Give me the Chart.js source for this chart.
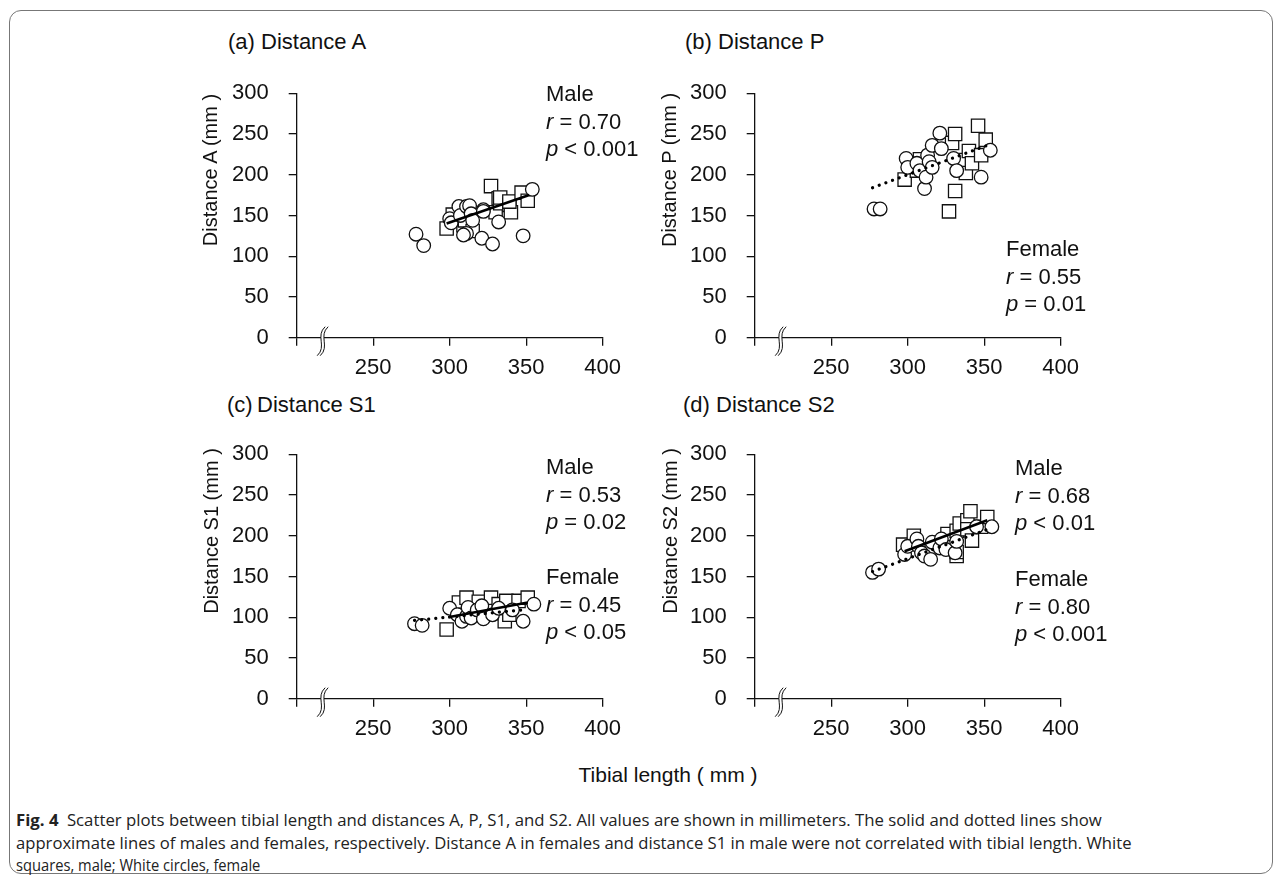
<!DOCTYPE html>
<html>
<head>
<meta charset="utf-8">
<script src="https://cdn.jsdelivr.net/npm/chart.js@4.4.0/dist/chart.umd.min.js"></script>
<style>
html, body { margin: 0; padding: 0; background: #fff; }
body { width: 1282px; height: 877px; position: relative; overflow: hidden; font-family: "Liberation Sans", Arial, sans-serif; color: #111; }
.frame { position: absolute; left: 9px; top: 10px; width: 1264px; height: 864px; border: 1px solid #777; border-radius: 12px; box-sizing: border-box; }
.panel { position: absolute; width: 420px; height: 330px; }
.title { position: absolute; font-size: 22px; line-height: 26px; white-space: nowrap; }
.ytitle { position: absolute; font-size: 20px; line-height: 22px; white-space: nowrap; transform: translate(-50%, -50%) rotate(-90deg); }
.note { position: absolute; font-size: 22px; line-height: 27.5px; white-space: nowrap; }
.xtitle { position: absolute; font-size: 21px; line-height: 24px; white-space: nowrap; transform: translateX(-50%); }
.cap { position: absolute; left: 16px; font-family: "Open Sans", sans-serif; font-size: 16.5px; line-height: 22px; white-space: nowrap; color: #222; transform-origin: 0 50%; }
</style>
</head>
<body>
<div class="frame"></div>

<canvas id="pa" class="panel" style="left:220px; top:60px"></canvas>
<canvas id="pb" class="panel" style="left:678px; top:60px"></canvas>
<canvas id="pc" class="panel" style="left:220px; top:421px"></canvas>
<canvas id="pd" class="panel" style="left:678px; top:421px"></canvas>

<div class="title" style="left:228px; top:29px">(a) Distance A</div>
<div class="title" style="left:685px; top:29px">(b) Distance P</div>
<div class="title" style="left:227px; top:392px">(c)&thinsp;Distance S1</div>
<div class="title" style="left:683px; top:392px">(d) Distance S2</div>

<div class="ytitle" style="left:210px; top:170px">Distance A (mm )</div>
<div class="ytitle" style="left:669px; top:170px">Distance P (mm )</div>
<div class="ytitle" style="left:211px; top:531px">Distance S1 (mm )</div>
<div class="ytitle" style="left:670px; top:531px">Distance S2 (mm )</div>

<div class="note" style="left:546px; top:80px">Male<br><i>r</i> = 0.70<br><i>p</i> &lt; 0.001</div>
<div class="note" style="left:1006px; top:235px">Female<br><i>r</i> = 0.55<br><i>p</i> = 0.01</div>
<div class="note" style="left:546px; top:453px">Male<br><i>r</i> = 0.53<br><i>p</i> = 0.02</div>
<div class="note" style="left:546px; top:563px">Female<br><i>r</i> = 0.45<br><i>p</i> &lt; 0.05</div>
<div class="note" style="left:1015px; top:454px">Male<br><i>r</i> = 0.68<br><i>p</i> &lt; 0.01</div>
<div class="note" style="left:1015px; top:565px">Female<br><i>r</i> = 0.80<br><i>p</i> &lt; 0.001</div>

<div class="xtitle" style="left:668px; top:763px">Tibial length ( mm )</div>

<div class="cap" data-w="1086" style="top:809px"><b>Fig. 4</b>&ensp;Scatter plots between tibial length and distances A, P, S1, and S2. All values are shown in millimeters. The solid and dotted lines show</div>
<div class="cap" data-w="1116" style="top:832px">approximate lines of males and females, respectively. Distance A in females and distance S1 in male were not correlated with tibial length. White</div>
<div class="cap" data-w="244" style="top:854px">squares, male; White circles, female</div>

<script>
// tibial length (x) vs distance (y), mm; squares = male, circles = female
const maleA = [[298,134],[302,151],[309,138],[310,144],[315,131],[327,186],[330,154],[332,171],[333,165],[333,172],[339,163],[340,154],[339,167],[347,178],[351,168]];
const femaleA = [[278,127],[283,113],[300,146],[301,141],[306,161],[307,150],[311,161],[311,128],[309,126],[313,162],[314,152],[315,144],[321,122],[322,157],[322,155],[328,115],[332,142],[348,125],[354,182]];
const maleLineA = [[298,140],[352,175]];

const maleP = [[298,194],[306,205],[308,219],[327,155],[329,239],[331,250],[331,180],[334,218],[338,202],[340,229],[342,214],[346,260],[348,224],[351,243]];
const femaleP = [[278,158],[282,158],[299,220],[300,209],[306,214],[308,205],[311,183],[312,197],[313,224],[314,216],[316,209],[316,236],[321,251],[322,232],[330,220],[332,205],[348,197],[354,230]];
const femaleLineP = [[277,184],[352,236]];

const maleS1 = [[298,85],[306,118],[310,103],[311,124],[319,119],[324,111],[327,124],[332,116],[333,105],[336,95],[337,120],[339,103],[345,120],[351,124]];
const femaleS1 = [[277,92],[282,90],[300,111],[305,103],[308,95],[311,101],[312,112],[314,99],[318,109],[321,114],[322,98],[328,103],[332,111],[341,109],[348,95],[355,116]];
const maleLineS1 = [[299,100],[351,118]];
const femaleLineS1 = [[277,96],[348,109]];

const maleS2 = [[297,189],[304,200],[326,202],[332,206],[332,175],[332,180],[334,215],[339,219],[339,208],[341,230],[342,194],[348,211],[352,223]];
const femaleS2 = [[277,155],[281,159],[298,177],[300,187],[306,196],[307,187],[309,179],[311,175],[315,171],[316,192],[321,185],[322,196],[325,183],[331,179],[332,193],[345,211],[355,211]];
const maleLineS2 = [[298,181],[352,219]];
const femaleLineS2 = [[277,156],[354,209]];

const xTicks = [200, 250, 300, 350, 400];
const yTicks = [0, 50, 100, 150, 200, 250, 300];
const breakAt = 216;

const kFont = "'Liberation Sans', Arial, sans-serif";

const toPts = (arr) => arr.map(([x, y]) => ({x, y}));

// draws the double wavy axis-break mark on the x axis
const axisBreak = {
	id: "axisBreak",
	afterDraw(chart) {
		const ctx = chart.ctx;
		const x = chart.scales.x.getPixelForValue(breakAt);
		const y = chart.scales.y.getPixelForValue(0);
		const wave = (dx) => {
			ctx.beginPath();
			ctx.moveTo(x + 4 + dx, y - 11);
			ctx.bezierCurveTo(x - 6 + dx, y - 2, x + 6 + dx, y + 9, x - 4 + dx, y + 18);
			ctx.stroke();
		};
		ctx.save();
		ctx.strokeStyle = "#fff";
		ctx.lineWidth = 3;
		wave(1.5);
		ctx.strokeStyle = "#111";
		ctx.lineWidth = 1;
		wave(0);
		wave(3);
		ctx.restore();
	}
};

function axis(min, max, fit, extra) {
	return Object.assign({
		type: "linear",
		min,
		max,
		afterFit: fit,
		border: {color: "#111", width: 1.3},
		grid: {drawOnChartArea: false, drawTicks: true, tickLength: 8, color: "#111", lineWidth: 1.3},
		ticks: {stepSize: 50, color: "#111", font: {family: kFont, size: 22}, autoSkip: false, maxRotation: 0}
	}, extra);
}

function makePanel(id, male, female, maleLine, femaleLine) {
	const datasets = [];

	if (maleLine) {
		datasets.push({type: "line", data: toPts(maleLine), borderColor: "#000", borderWidth: 2.6, pointRadius: 0, fill: false});
	}
	if (femaleLine) {
		datasets.push({type: "line", data: toPts(femaleLine), borderColor: "#000", borderWidth: 3.2, borderDash: [0.1, 7], borderCapStyle: "round", pointRadius: 0, fill: false});
	}
	datasets.push({data: toPts(female), pointStyle: "circle", pointRadius: 6.8, backgroundColor: "#fff", borderColor: "#111", borderWidth: 1.3});
	datasets.push({data: toPts(male), pointStyle: "rect", pointRadius: 9.4, backgroundColor: "#fff", borderColor: "#111", borderWidth: 1.3});

	const xAxis = axis(200, 400, (s) => { s.height = 52.3; }, {});
	xAxis.afterBuildTicks = (s) => { s.ticks = xTicks.map((v) => ({value: v})); };
	xAxis.ticks.padding = 9;
	xAxis.ticks.callback = (v) => (v === 200 ? "" : v);

	const yAxis = axis(0, 300, (s) => { s.width = 76.7; }, {});
	yAxis.afterBuildTicks = (s) => { s.ticks = yTicks.map((v) => ({value: v})); };
	yAxis.ticks.padding = 20;

	return new Chart(document.getElementById(id).getContext("2d"), {
		type: "scatter",
		data: {datasets},
		options: {
			animation: false,
			responsive: false,
			devicePixelRatio: 1,
			layout: {padding: {top: 15, right: 37.3, bottom: 0, left: 0}},
			plugins: {legend: {display: false}, tooltip: {enabled: false}},
			scales: {x: xAxis, y: yAxis}
		},
		plugins: [axisBreak]
	});
}

for (const c of document.querySelectorAll("canvas.panel")) {
	c.width = 420;
	c.height = 330;
}

makePanel("pa", maleA, femaleA, maleLineA, null);
makePanel("pb", maleP, femaleP, null, femaleLineP);
makePanel("pc", maleS1, femaleS1, maleLineS1, femaleLineS1);
makePanel("pd", maleS2, femaleS2, maleLineS2, femaleLineS2);

// squeeze the caption lines to the widths of the original
for (const el of document.querySelectorAll(".cap")) {
	const target = Number(el.dataset.w);
	el.style.transform = `scaleX(${target / el.offsetWidth})`;
}
</script>
</body>
</html>
